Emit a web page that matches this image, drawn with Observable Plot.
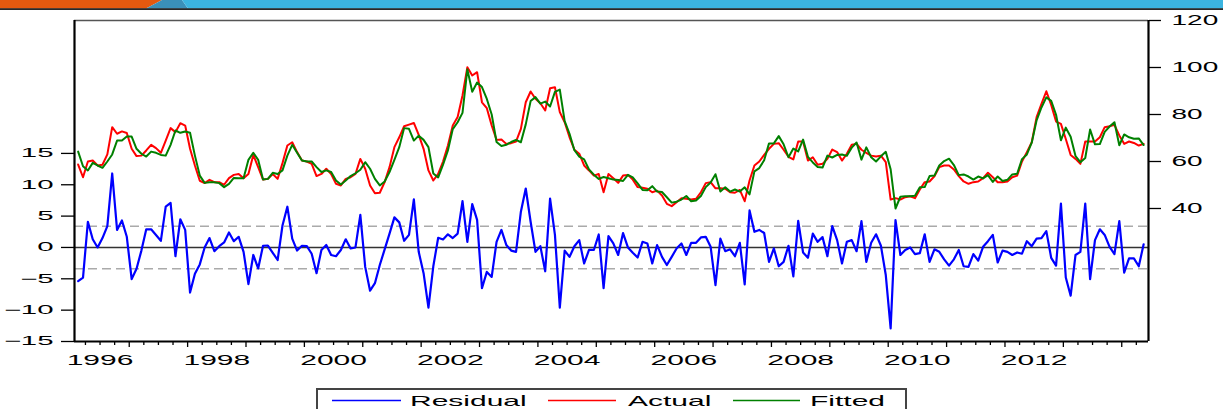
<!DOCTYPE html>
<html>
<head>
<meta charset="utf-8">
<script src="https://cdn.jsdelivr.net/npm/d3@7"></script>
<script src="https://cdn.jsdelivr.net/npm/@observablehq/plot@0.6"></script>
<style>
  html, body { margin: 0; padding: 0; background: #fff; width: 1223px; height: 409px; overflow: hidden; }
  #wrap { position: relative; width: 1223px; height: 409px; }
  #chart { position: absolute; left: 0; top: 0; }
  #overlay { position: absolute; left: 0; top: 0; pointer-events: none; }
</style>
</head>
<body>
<div id="wrap">
  <div id="chart"></div>
  <svg id="overlay" width="1223" height="409"></svg>
</div>
<script>
// ---- Data (monthly, first observation 1996M02) ----
const startYear = 1996;
const startMonth = 2;

const residual = [
  -5.37, -4.8, 4.1, 1.3, 0.0, 1.5, 3.4, 11.8, 2.8, 4.3, 1.7, -5.05,
  -3.4, -0.5, 2.9, 2.9, 2.0, 1.06, 6.5, 7.1, -1.4, 4.5, 2.8, -7.2,
  -4.2, -2.7, 0.0, 1.5, -0.6, 0.2, 0.8, 2.4, 1.0, 1.7, -0.7, -5.85,
  -1.2, -3.35, 0.27, 0.3, -0.85, -2.0, 3.5, 6.5, 1.4, -0.5, 0.27, 0.2,
  -1.0, -4.1, -0.4, 0.4, -1.2, -1.4, -0.4, 1.3, -0.16, 0.0, 5.2, -3.1,
  -6.9, -5.7, -2.8, -0.3, 2.2, 4.8, 4.0, 1.06, 2.0, 7.66, -0.7, -4.1,
  -9.6, -3.0, 1.54, 1.28, 2.1, 1.5, 2.2, 7.4, 0.9, 6.9, 4.4, -6.5,
  -3.9, -4.7, 0.9, 2.8, 0.4, -0.5, -0.7, 5.7, 9.4, 4.1, -0.7, 0.2,
  -3.8, 7.8, 2.0, -9.6, -0.5, -1.5, 0.2, 1.17, -2.55, -0.4, -0.4, 2.07,
  -6.5, 1.8, 0.64, -1.2, 2.3, 0.0, -0.85, -1.6, 0.9, 0.64, -2.55, 0.37,
  -1.5, -2.8, -1.5, -0.16, 0.64, -1.2, 0.74, 0.74, 1.6, 1.7, 0.1, -6.0,
  1.4, -0.6, -0.3, -1.4, 0.74, -5.9, 5.9, 2.5, 2.8, 2.3, -2.3, -0.16,
  -3.0, -2.3, 0.27, -4.6, 4.25, -0.8, -1.65, 2.2, 0.9, 1.65, -1.4, 3.4,
  1.17, -2.55, 0.9, 1.17, -0.6, 4.2, -2.3, 0.74, 2.1, 0.27, -4.4, -12.9,
  4.36, -1.2, -0.4, 0.0, -1.06, -0.9, 2.1, -2.3, -0.3, -0.7, -1.9, -2.9,
  -1.9, -0.4, -3.0, -3.1, -1.06, -2.1, 0.1, 1.0, 2.0, -2.4, -0.5, -0.7,
  -1.2, -0.8, -1.0, 1.0, 0.2, 1.4, 1.5, 2.6, -1.65, -2.9, 7.0, -4.8,
  -7.7, -1.2, -0.7, 7.0, -5.05, 1.17, 2.9, 2.0, 0.1, -1.06, 4.2, -4.0,
  -1.75, -1.75, -3.0, 0.5
];

const actual = [
  58.7, 53.3, 60.0, 60.4, 58.3, 58.6, 63.0, 74.6, 71.8, 72.8, 72.1, 65.4,
  62.3, 62.5, 64.7, 67.1, 65.7, 63.7, 68.9, 74.2, 72.5, 76.3, 75.3, 65.4,
  58.3, 51.8, 50.8, 52.2, 51.2, 51.2, 50.1, 52.9, 54.3, 54.7, 52.9, 54.7,
  62.8, 57.6, 52.3, 52.6, 54.7, 52.6, 59.3, 66.8, 68.2, 64.0, 60.4, 60.0,
  59.0, 53.8, 54.7, 56.9, 54.7, 50.5, 49.8, 52.6, 53.3, 54.7, 61.1, 56.9,
  49.8, 46.5, 46.7, 51.2, 57.6, 66.1, 70.3, 75.0, 75.7, 76.4, 71.3, 65.4,
  56.2, 51.9, 54.7, 60.0, 66.8, 75.3, 78.9, 88.1, 100.1, 96.6, 98.0, 85.2,
  82.7, 75.3, 69.2, 69.4, 67.5, 67.8, 68.5, 73.9, 85.2, 89.8, 86.7, 84.8,
  81.7, 91.2, 91.6, 81.0, 76.7, 70.3, 65.0, 63.3, 58.3, 56.2, 54.0, 54.7,
  46.9, 54.7, 52.9, 50.9, 54.0, 54.3, 52.3, 49.1, 48.8, 48.4, 46.9, 47.6,
  45.5, 42.0, 41.0, 42.7, 44.4, 44.1, 43.8, 44.1, 46.9, 50.8, 51.2, 48.6,
  48.6, 48.4, 46.9, 46.7, 47.9, 43.1, 51.9, 58.3, 60.0, 62.8, 65.4, 67.5,
  67.8, 65.0, 62.0, 60.9, 68.5, 68.5, 60.4, 61.8, 58.6, 59.0, 61.1, 65.1,
  64.0, 60.4, 63.3, 67.1, 67.5, 65.0, 63.7, 62.5, 62.1, 62.5, 59.7, 43.8,
  44.4, 43.8, 44.8, 45.2, 44.4, 48.1, 51.2, 51.5, 53.7, 57.6, 58.3, 58.3,
  56.6, 53.8, 51.5, 50.5, 51.2, 51.5, 52.9, 55.2, 53.3, 51.2, 51.2, 51.5,
  53.3, 54.0, 60.0, 64.0, 68.2, 78.9, 84.5, 89.9, 84.1, 77.0, 76.0, 69.6,
  62.8, 61.1, 59.0, 68.5, 68.5, 68.5, 70.3, 74.6, 75.0, 75.6, 71.1, 67.5,
  68.5, 67.9, 66.8, 67.5
];

const fitted = [
  64.2, 58.0, 56.2, 59.4, 58.3, 57.3, 60.0, 63.0, 68.9, 68.9, 70.6, 70.6,
  65.4, 63.3, 62.1, 64.2, 63.7, 62.8, 62.5, 67.1, 73.2, 72.2, 72.8, 72.2,
  62.5, 54.0, 50.9, 51.2, 51.2, 50.8, 49.1, 50.5, 53.0, 52.9, 52.9, 60.7,
  63.7, 60.7, 52.3, 52.6, 55.2, 54.7, 56.2, 62.5, 67.1, 63.7, 60.4, 60.0,
  60.0, 57.6, 55.5, 56.2, 55.5, 51.9, 50.2, 51.9, 53.8, 55.0, 56.5, 59.7,
  56.9, 52.6, 49.8, 51.5, 55.5, 60.7, 66.1, 74.2, 73.9, 68.9, 71.0, 69.2,
  66.1, 54.9, 53.2, 58.7, 64.7, 73.8, 76.7, 80.7, 99.2, 89.7, 93.6, 91.7,
  86.6, 80.0, 68.3, 66.6, 67.1, 68.3, 69.2, 68.2, 75.8, 85.7, 87.4, 84.6,
  85.5, 83.4, 89.6, 90.6, 77.2, 71.8, 64.8, 62.1, 60.9, 56.6, 54.4, 52.6,
  53.4, 52.9, 52.3, 52.1, 51.7, 54.3, 53.2, 50.7, 47.9, 47.8, 49.5, 47.2,
  47.0, 44.8, 42.5, 42.9, 43.8, 45.3, 43.1, 43.4, 45.3, 49.1, 51.1, 54.6,
  47.2, 49.0, 47.2, 48.1, 47.2, 49.0, 46.0, 55.8, 57.2, 60.5, 67.7, 67.7,
  70.8, 67.3, 61.8, 65.5, 64.3, 69.3, 62.0, 59.6, 57.7, 57.4, 62.5, 61.7,
  62.8, 63.0, 62.4, 65.9, 68.1, 60.8, 66.0, 61.8, 60.0, 62.2, 64.1, 56.7,
  40.0, 45.0, 45.2, 45.2, 45.4, 49.0, 49.1, 53.8, 54.0, 58.3, 60.2, 61.2,
  58.5, 54.2, 54.5, 53.6, 52.3, 53.6, 52.8, 54.2, 51.3, 53.6, 51.7, 52.2,
  54.5, 54.8, 61.0, 63.0, 68.0, 77.5, 83.0, 87.3, 85.8, 79.9, 69.0, 74.4,
  70.5, 62.3, 59.7, 61.5, 73.6, 67.3, 67.4, 72.6, 74.9, 76.7, 66.9, 71.5,
  70.3, 69.7, 69.8, 67.0
];

const stdErr = 3.38;                       // ± band (dashed lines)
const leftTicks = [-15, -10, -5, 0, 5, 10, 15];
const rightTicks = [40, 60, 80, 100, 120];
const labelYears = [1996, 1998, 2000, 2002, 2004, 2006, 2008, 2010, 2012];
const seriesNames = ["Residual", "Actual", "Fitted"];
const seriesColors = ["#0000ff", "#ff0000", "#008000"];

// ---- Scales (left axis: residual, right axis: actual/fitted) ----
const leftDomain = [-15, 36.2];
const rightDomain = [-16.6, 120];
const toLeft = v => leftDomain[0] + (v - rightDomain[0]) * (leftDomain[1] - leftDomain[0]) / (rightDomain[1] - rightDomain[0]);
const fromLeft = r => rightDomain[0] + (r - leftDomain[0]) * (rightDomain[1] - rightDomain[0]) / (leftDomain[1] - leftDomain[0]);

const xOf = i => startYear + (startMonth - 1 + i + 0.5) / 12;
const rows = residual.map((r, i) => ({t: xOf(i), residual: r, actual: actual[i], fitted: fitted[i]}));
const xDomain = [startYear + 0.75 / 12, startYear + (startMonth - 1 + residual.length + 0.5) / 12];

const quarterTicks = [], yearTicks = [];
for (let y = startYear; y <= 2014; y++) {
  for (let q = 0; q < 4; q++) {
    const v = y + q / 4;
    if (v < xDomain[0] || v > xDomain[1]) continue;
    (q === 0 ? yearTicks : quarterTicks).push(v);
  }
}

const font = "'Liberation Sans', Arial, Helvetica, sans-serif";

const chart = Plot.plot({
  width: 1223,
  height: 380,
  marginLeft: 74,
  marginRight: 75,
  marginTop: 20,
  marginBottom: 39,
  x: {domain: xDomain, label: null},
  y: {domain: leftDomain, label: null},
  style: {fontFamily: font, color: "#000", background: "transparent", overflow: "visible"},
  marks: [
    Plot.ruleY([stdErr, -stdErr], {stroke: "#aaaaaa", strokeWidth: 1.5, strokeDasharray: "9,5"}),
    Plot.ruleY([0], {stroke: "#333", strokeWidth: 1.5}),
    Plot.line(rows, {x: "t", y: "residual", stroke: seriesColors[0], strokeWidth: 2.2}),
    Plot.line(rows, {x: "t", y: d => toLeft(d.actual), stroke: seriesColors[1], strokeWidth: 2}),
    Plot.line(rows, {x: "t", y: d => toLeft(d.fitted), stroke: seriesColors[2], strokeWidth: 2}),
    // frame
    Plot.ruleY([leftDomain[1]], {stroke: "#555", strokeWidth: 1.5}),
    Plot.ruleY([leftDomain[0]], {stroke: "#000", strokeWidth: 2}),
    Plot.ruleX([xDomain[0]], {stroke: "#000", strokeWidth: 2.2}),
    Plot.ruleX([xDomain[1]], {stroke: "#000", strokeWidth: 2.2}),
    // axes
    Plot.axisY({ticks: leftTicks, anchor: "left", tickSize: 13, tickPadding: 8, fontSize: 12, stroke: "#000", strokeWidth: 1.3, label: null}),
    Plot.axisY({ticks: rightTicks.map(toLeft), anchor: "right", tickSize: 12, tickPadding: 11, fontSize: 14, stroke: "#000", strokeWidth: 1.3, label: null,
      tickFormat: d => String(Math.round(fromLeft(d)))}),
    Plot.axisX({ticks: quarterTicks, anchor: "bottom", tickSize: 4, tickFormat: () => "", stroke: "#000", strokeWidth: 1.3, label: null}),
    Plot.axisX({ticks: yearTicks, anchor: "bottom", tickSize: 6, tickFormat: () => "", stroke: "#000", strokeWidth: 1.3, label: null}),
    Plot.axisX({ticks: labelYears.map(y => y + 0.5), anchor: "bottom", tickSize: 0, tickPadding: 13, fontSize: 15, label: null,
      tickFormat: d => String(Math.floor(d))})
  ]
});

// Horizontally stretched lettering, as in the reference
chart.querySelectorAll('g[aria-label$="tick label"]').forEach(g => {
  const anchor = g.getAttribute("text-anchor");
  const k = anchor === "end" ? 2.45 : 2.0;
  g.querySelectorAll("text").forEach(t => {
    const tr = t.getAttribute("transform");
    if (tr) t.setAttribute("transform", tr + ` scale(${k},1)`);
  });
});
document.getElementById("chart").appendChild(chart);

// ---- Overlay: header band and legend ----
const ov = d3.select("#overlay");
ov.append("polygon").attr("points", "0,0 162,0 146,8.5 0,8.5").attr("fill", "#e4590f");
ov.append("polygon").attr("points", "162,0 182,0 188,8.5 146,8.5").attr("fill", "#3a90b9");
ov.append("polygon").attr("points", "182,0 1223,0 1223,8.5 188,8.5").attr("fill", "#3bb4e0");
ov.append("rect").attr("x", 0).attr("y", 8.3).attr("width", 1223).attr("height", 1.6).attr("fill", "#111");

const leg = ov.append("g").attr("font-family", font).attr("font-size", 15).attr("fill", "#000");
leg.append("rect").attr("x", 317).attr("y", 389).attr("width", 589).attr("height", 40)
  .attr("fill", "#fff").attr("stroke", "#444").attr("stroke-width", 2);
const legendItems = [
  {line: [332, 401], text: 410},
  {line: [548, 616], text: 628},
  {line: [733, 800], text: 810}
];
legendItems.forEach((it, i) => {
  leg.append("line").attr("x1", it.line[0]).attr("x2", it.line[1]).attr("y1", 400.5).attr("y2", 400.5)
    .attr("stroke", seriesColors[i]).attr("stroke-width", 1.4);
  leg.append("text").attr("transform", `translate(${it.text},406) scale(2,1)`).text(seriesNames[i]);
});
</script>
</body>
</html>
